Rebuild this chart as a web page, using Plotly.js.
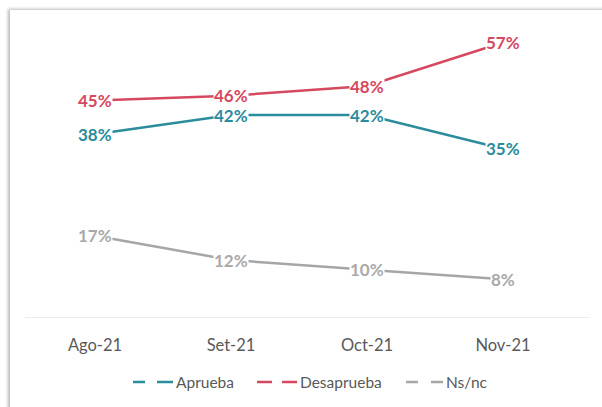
<!DOCTYPE html>
<html>
<head>
<meta charset="utf-8">
<script src="https://cdn.plot.ly/plotly-3.0.1.min.js"></script>
<style>
  html, body { margin:0; padding:0; background:#ffffff; overflow:hidden; }
  #frame { position:absolute; left:10px; top:10px; width:700px; height:500px; background:#fff;
           box-shadow:-2px -1px 3px rgba(0,0,0,0.28); }
  #chart { position:absolute; left:0; top:0; width:602px; height:407px; }
</style>
</head>
<body>
<div id="frame"></div>
<div id="chart"></div>
<script>
const categories = ["Ago-21", "Set-21", "Oct-21", "Nov-21"];
const aprueba = [38, 42, 42, 35];
const desaprueba = [45, 46, 48, 57];
const nsnc = [17, 12, 10, 8];
const seriesNames = ["Aprueba", "Desaprueba", "Ns/nc"];
const colors = ["#2b8c9b", "#d6485f", "#a6a6a6"];
const labelColors = ["#2b8c9b", "#d6485f", "#a9a9a9"];

const seriesData = [aprueba, desaprueba, nsnc];

const traces = seriesData.map((vals, i) => ({
  x: categories, y: vals, type: "scatter", mode: "lines", name: seriesNames[i],
  line: { color: colors[i], width: 2.5 }, hoverinfo: "skip", showlegend: false
}));

const annotations = [];
seriesData.forEach((vals, i) => {
  vals.forEach((v, j) => {
    annotations.push({
      x: categories[j], y: v, xref: "x", yref: "y", text: v + "%", showarrow: false,
      xanchor: "center", yanchor: "middle", bgcolor: "#ffffff", borderpad: 0,
      font: { family: "Lato", size: 17, color: labelColors[i], weight: "bold" }
    });
  });
});

// custom legend (Excel style)
const W = 544, H = 290, L = 27, T = 28;
const px = p => (p - L) / W;
const py = p => (T + H - p) / H;
const legendItems = [
  { d1: [133, 145], d2: [157, 173], tx: 174 },
  { d1: [257, 272], d2: [282, 297], tx: 298 },
  { d1: [406, 418], d2: [431, 443], tx: 444 }
];
const shapes = [
  { type: "line", xref: "paper", yref: "y", x0: px(25), x1: px(590), y0: 0, y1: 0,
    line: { color: "#d9d9d9", width: 1.2 } }
];
legendItems.forEach((it, i) => {
  [it.d1, it.d2].forEach(d => shapes.push({
    type: "line", xref: "paper", yref: "paper", x0: px(d[0]), x1: px(d[1]),
    y0: py(382), y1: py(382), line: { color: colors[i], width: 2.5 }
  }));
  annotations.push({
    xref: "paper", yref: "paper", x: px(it.tx), y: py(382), text: seriesNames[i],
    showarrow: false, xanchor: "left", yanchor: "middle",
    font: { family: "Lato", size: 15.5, color: "#595959" }
  });
});

const layout = {
  width: 602, height: 407,
  margin: { l: L, r: 602 - L - W, t: T, b: 407 - T - H, pad: 0 },
  paper_bgcolor: "rgba(0,0,0,0)", plot_bgcolor: "rgba(0,0,0,0)",
  showlegend: false,
  xaxis: {
    type: "category", range: [-0.5, 3.5], showgrid: false, zeroline: false,
    showline: false, ticks: "", ticklabelstandoff: 15,
    tickfont: { family: "Lato", size: 16.5, color: "#595959" }
  },
  yaxis: { range: [0, 60], showgrid: false, zeroline: false, showline: false,
           showticklabels: false, ticks: "" },
  shapes: shapes,
  annotations: annotations
};

Plotly.newPlot("chart", traces, layout, { displayModeBar: false, staticPlot: true });
</script>
</body>
</html>
